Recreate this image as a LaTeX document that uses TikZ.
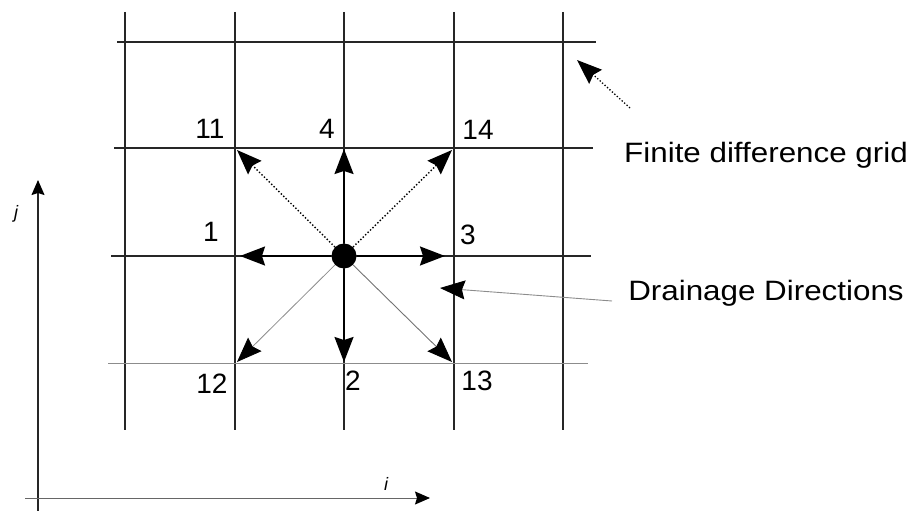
\documentclass[tikz,border=0pt]{standalone}
\usepackage{fontspec}
\setmainfont{Liberation Sans}
\usetikzlibrary{arrows.meta}
\begin{document}
\begin{tikzpicture}[x=1pt,y=-1pt,
  gridline/.style={line width=1.7pt,black!85},
  faintline/.style={line width=0.9pt,black!45},
  bigtip/.style={-{Stealth[length=25pt,width=19pt,inset=3pt,black]}},
  axistip/.style={-{Stealth[length=15pt,width=13pt,inset=2pt,black]}},
  num/.style={font=\fontsize{28}{30}\selectfont,inner sep=0pt},
  lab/.style={font=\fontsize{28}{32}\selectfont,inner sep=0pt},
  axlab/.style={font=\fontsize{18}{20}\selectfont\itshape,inner sep=0pt}]
\useasboundingbox (0,0) rectangle (915,511);
% grid
\foreach \x in {125,235,344,454,563} \draw[gridline] (\x,12) -- (\x,430);
\draw[gridline] (117,42) -- (596,42);
\draw[gridline] (114,148) -- (593,148);
\draw[gridline] (111,256) -- (591,256);
\draw[faintline] (108,363) -- (588,363);
% centre and neighbours
\node[circle,fill=black,minimum size=25pt,inner sep=0pt] (c) at (344,256) {};
\coordinate (p11) at (237,150);
\coordinate (p4) at (344,149);
\coordinate (p14) at (452,150);
\coordinate (p1) at (240,256);
\coordinate (p3) at (445,256);
\coordinate (p12) at (237,362);
\coordinate (p2) at (344,362);
\coordinate (p13) at (452,362);
\draw[bigtip,line width=1.4pt,dotted] (c) -- (p11);
\draw[bigtip,line width=1.7pt] (c) -- (p4);
\draw[bigtip,line width=1.4pt,dotted] (c) -- (p14);
\draw[bigtip,line width=1.7pt] (c) -- (p1);
\draw[bigtip,line width=1.7pt] (c) -- (p3);
\draw[bigtip,line width=0.8pt,black!45] (c) -- (p12);
\draw[bigtip,line width=1.7pt] (c) -- (p2);
\draw[bigtip,line width=0.9pt,black!55] (c) -- (p13);
% numbers
\node[num] (t11) at (210,129) {11};
\node[num] (t4) at (327,129) {4};
\node[num] (t14) at (478,130) {14};
\node[num] (t1) at (211,232) {1};
\node[num] (t3) at (468,235) {3};
\node[num] (t12) at (212,384) {12};
\node[num] (t2) at (353,381) {2};
\node[num] (t13) at (477,381) {13};
% labels
\node[lab] (fdg) at (766,155) {\scalebox{1.12}[1]{Finite difference grid}};
\node[lab] (dd) at (766,293) {\scalebox{1.12}[1]{Drainage Directions}};
\coordinate (fdgsrc) at (630,108);
\coordinate (fdgtip) at (577,60);
\draw[bigtip,line width=1.3pt,dotted] (fdgsrc) -- (fdgtip);
\coordinate (ddsrc) at (612,301);
\coordinate (ddtip) at (440,288);
\draw[bigtip,line width=0.9pt,black!45] (ddsrc) -- (ddtip);
% axes
\coordinate (o1) at (38,511);
\coordinate (jtip) at (38,180);
\coordinate (o2) at (25,498);
\coordinate (itip) at (430,498);
\draw[axistip,line width=1.2pt,black!85] (o1) -- (jtip);
\draw[axistip,line width=1pt,black!60] (o2) -- (itip);
\node[axlab] (jl) at (16,214) {j};
\node[axlab] (il) at (386,484) {i};
\end{tikzpicture}
\end{document}
